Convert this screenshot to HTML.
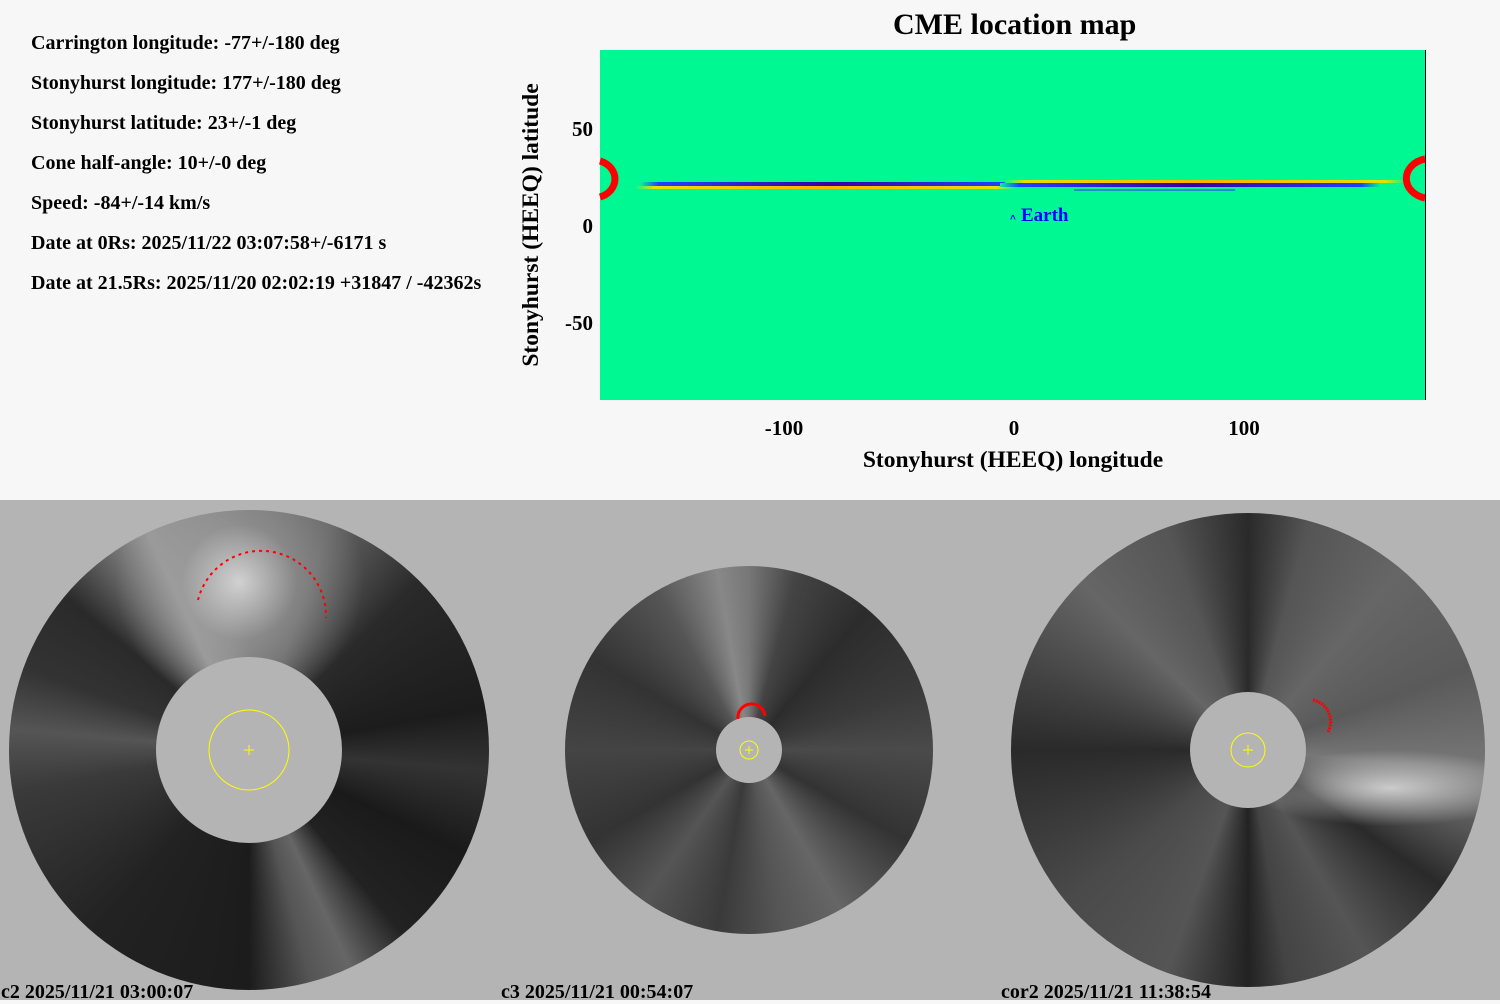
<!DOCTYPE html>
<html><head><meta charset="utf-8"><style>
body{margin:0;width:1500px;height:1000px;position:relative;overflow:hidden;background:#f7f7f7;font-family:"Liberation Serif",serif;font-weight:bold;}
.t{position:absolute;font-size:20px;color:#000;white-space:nowrap}
.bot{position:absolute;left:0;top:500px;width:1500px;height:500px;background:#b4b4b4}
.disk{position:absolute;border-radius:50%}
.lab{position:absolute;font-size:20px;white-space:nowrap}
</style></head><body>
<div class="t" style="left:31px;top:32px">Carrington longitude: -77+/-180 deg</div>
<div class="t" style="left:31px;top:72px">Stonyhurst longitude: 177+/-180 deg</div>
<div class="t" style="left:31px;top:112px">Stonyhurst latitude: 23+/-1 deg</div>
<div class="t" style="left:31px;top:152px">Cone half-angle: 10+/-0 deg</div>
<div class="t" style="left:31px;top:192px">Speed: -84+/-14 km/s</div>
<div class="t" style="left:31px;top:232px">Date at 0Rs: 2025/11/22 03:07:58+/-6171 s</div>
<div class="t" style="left:31px;top:272px">Date at 21.5Rs: 2025/11/20 02:02:19 +31847 / -42362s</div>

<div class="t" style="left:893px;top:8px;font-size:30px">CME location map</div>

<div class="bot"></div>
<!-- C2 -->
<div class="disk" style="left:9px;top:510px;width:480px;height:480px;background:
radial-gradient(circle at 48% 15%, rgba(230,230,230,.8) 0, rgba(160,160,160,.5) 12%, rgba(0,0,0,0) 26%),
conic-gradient(from 0deg, #777 0deg,#666 20deg,#2a2a2a 45deg,#1c1c1c 80deg,#333 95deg,#1a1a1a 115deg,#222 140deg,#666 155deg,#555 165deg,#1c1c1c 180deg,#222 220deg,#3a3a3a 260deg,#555 275deg,#333 290deg,#2a2a2a 310deg,#999 335deg,#888 350deg,#777 360deg)"></div>
<div class="disk" style="left:156px;top:657px;width:186px;height:186px;background:#b4b4b4"></div>
<!-- C3 -->
<div class="disk" style="left:565px;top:566px;width:368px;height:368px;background:
conic-gradient(from 0deg,#777 0deg,#444 15deg,#2c2c2c 40deg,#3a3a3a 70deg,#4a4a4a 90deg,#333 120deg,#666 150deg,#555 170deg,#3a3a3a 190deg,#555 215deg,#333 240deg,#444 270deg,#333 300deg,#555 330deg,#888 350deg,#777 360deg)"></div>
<div class="disk" style="left:716px;top:717px;width:66px;height:66px;background:#b4b4b4"></div>
<!-- COR2 -->
<div class="disk" style="left:1011px;top:513px;width:474px;height:474px;background:
radial-gradient(ellipse 30% 8% at 80% 58%, rgba(230,230,230,.8), rgba(0,0,0,0)),
conic-gradient(from 0deg,#2a2a2a 0deg,#555 15deg,#666 40deg,#5a5a5a 70deg,#777 95deg,#555 110deg,#2a2a2a 125deg,#555 150deg,#444 170deg,#222 180deg,#555 200deg,#4a4a4a 230deg,#2a2a2a 270deg,#444 290deg,#666 315deg,#555 340deg,#2a2a2a 360deg)"></div>
<div class="disk" style="left:1190px;top:692px;width:116px;height:116px;background:#b4b4b4"></div>

<svg style="position:absolute;left:0;top:0" width="1500" height="1000">
<rect x="600" y="50" width="825" height="350" fill="#00f893"/>
<line x1="1425.5" y1="50" x2="1425.5" y2="400" stroke="#000"/>
<defs>
<linearGradient id="g1" x1="0" x2="1"><stop offset="0" stop-color="#00f893"/><stop offset="0.05" stop-color="#2040ff"/><stop offset="0.5" stop-color="#3a00a0"/><stop offset="0.95" stop-color="#2040ff"/><stop offset="1" stop-color="#00f893"/></linearGradient>
<linearGradient id="g2" x1="0" x2="1"><stop offset="0" stop-color="#00f893"/><stop offset="0.05" stop-color="#e8e000"/><stop offset="0.5" stop-color="#ffb000"/><stop offset="0.95" stop-color="#e8e000"/><stop offset="1" stop-color="#00f893"/></linearGradient>
</defs>
<rect x="635" y="186" width="380" height="3" fill="url(#g2)"/>
<rect x="640" y="182" width="380" height="4" fill="url(#g1)"/>
<rect x="1005" y="180" width="400" height="3" fill="url(#g2)"/>
<rect x="1000" y="183" width="380" height="4" fill="url(#g1)"/>
<line x1="1074" y1="190" x2="1235" y2="190" stroke="#4020ff" stroke-width="1"/>
<path d="M600,161 A22,19 0 0 1 600,197" fill="none" stroke="#f00" stroke-width="7"/>
<path d="M1425,159 A24,20 0 0 0 1425,198" fill="none" stroke="#f00" stroke-width="7"/>
<text x="1010" y="222" font-size="10" fill="#00f" font-family="Liberation Sans">^</text>
<text x="1021" y="221" font-size="19" fill="#00f" font-weight="bold" font-family="Liberation Serif">Earth</text>
<g font-size="21" font-weight="bold" font-family="Liberation Serif" fill="#000">
<text x="593" y="136" text-anchor="end">50</text>
<text x="593" y="233" text-anchor="end">0</text>
<text x="593" y="330" text-anchor="end">-50</text>
<text x="784" y="435" text-anchor="middle">-100</text>
<text x="1014" y="435" text-anchor="middle">0</text>
<text x="1244" y="435" text-anchor="middle">100</text>
<text x="1013" y="467" text-anchor="middle" font-size="23.5">Stonyhurst (HEEQ) longitude</text>
<text transform="translate(538,225) rotate(-90)" text-anchor="middle" font-size="23.5">Stonyhurst (HEEQ) latitude</text>
</g>
<g transform="translate(0,500)">
<circle cx="249" cy="250" r="40" fill="none" stroke="#ff0" stroke-width="1"/>
<path d="M244,250h10M249,245v10" stroke="#ff0"/>
<path d="M198,100 A65,65 0 0 1 326,118" fill="none" stroke="#f00" stroke-width="2" stroke-dasharray="3,4"/>
<circle cx="749" cy="250" r="9" fill="none" stroke="#ff0"/>
<path d="M745,250h8M749,246v8" stroke="#ff0"/>
<path d="M738,219 A12,12 0 0 1 765,216" fill="none" stroke="#f00" stroke-width="3"/>
<circle cx="1248" cy="250" r="17" fill="none" stroke="#ff0"/>
<path d="M1243,250h10M1248,245v10" stroke="#ff0"/>
<path d="M1313,200 A22,22 0 0 1 1328,232" fill="none" stroke="#f00" stroke-width="3" stroke-dasharray="2,1"/>
</g>
</svg>

<div class="lab" style="left:1px;top:981px">c2 2025/11/21 03:00:07</div>
<div class="lab" style="left:501px;top:981px">c3 2025/11/21 00:54:07</div>
<div class="lab" style="left:1001px;top:981px">cor2 2025/11/21 11:38:54</div>
</body></html>
